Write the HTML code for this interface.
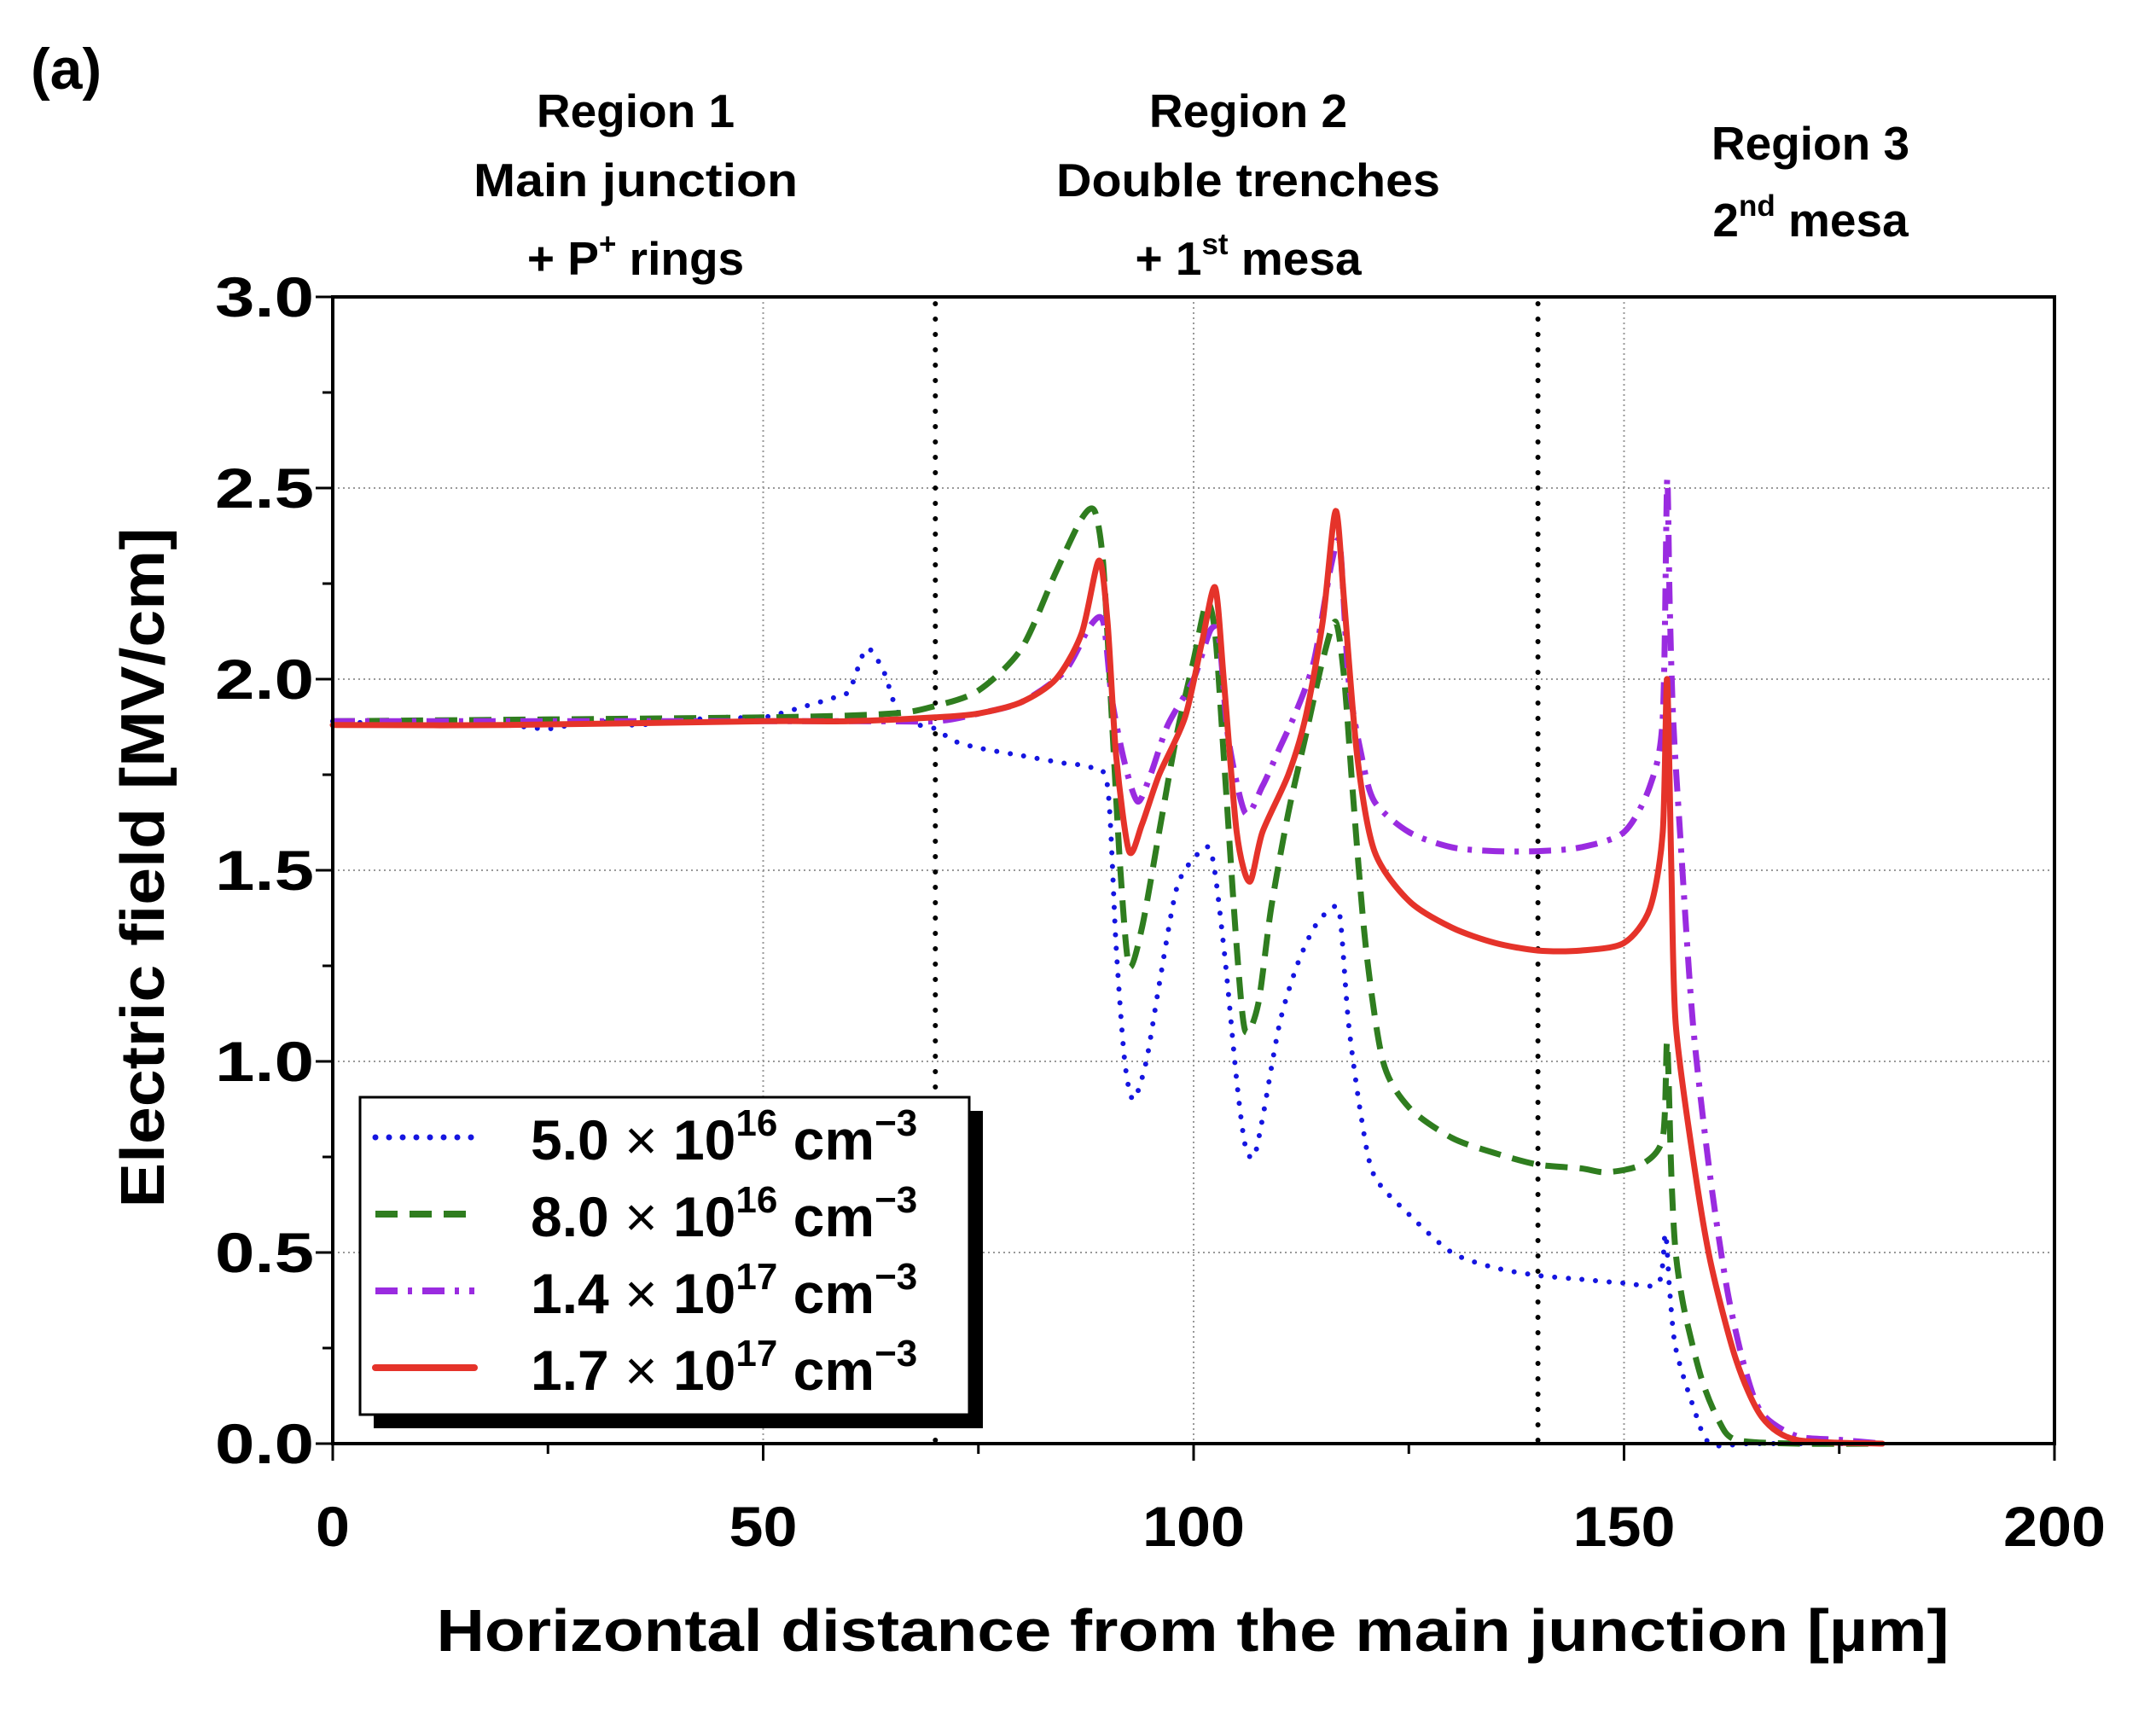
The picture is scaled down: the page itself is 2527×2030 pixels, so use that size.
<!DOCTYPE html>
<html><head><meta charset="utf-8">
<style>
html,body{margin:0;padding:0;background:#fff;}
svg{display:block;}
text{font-family:"Liberation Sans",sans-serif;font-weight:bold;fill:#000;}
</style></head>
<body>
<svg id="chart" width="2527" height="2030" viewBox="0 0 2527 2030" xmlns="http://www.w3.org/2000/svg">
  <text x="36" y="104" font-size="68">(a)</text>
  <g font-size="55" text-anchor="middle">
    <text x="745" y="149">Region 1</text>
    <text x="745" y="230" textLength="380" lengthAdjust="spacingAndGlyphs">Main junction</text>
    <text x="745" y="322">+ P<tspan dy="-24" font-size="35">+</tspan><tspan dy="24"> rings</tspan></text>
    <text x="1463" y="149">Region 2</text>
    <text x="1463" y="230" textLength="450" lengthAdjust="spacingAndGlyphs">Double trenches</text>
    <text x="1463" y="322">+ 1<tspan dy="-24" font-size="35">st</tspan><tspan dy="24"> mesa</tspan></text>
    <text x="2122" y="187">Region 3</text>
    <text x="2122" y="277">2<tspan dy="-24" font-size="35">nd</tspan><tspan dy="24"> mesa</tspan></text>
  </g>
  <g id="grid"></g>
  <g id="vlines"></g>
  <g id="series"></g>
  <g id="axes"></g>
  <text font-size="72" text-anchor="middle" textLength="797" lengthAdjust="spacingAndGlyphs" transform="translate(192,1017) rotate(-90)">Electric field [MV/cm]</text>
  <text font-size="70" text-anchor="middle" x="1398" y="1935" textLength="1773" lengthAdjust="spacingAndGlyphs">Horizontal distance from the main junction [µm]</text>
  <g id="legend"></g>
</svg>
<script>
const xTicks=[0,50,100,150,200];
const yTicks=[0.0,0.5,1.0,1.5,2.0,2.5,3.0];
const yTickLabels=["0.0","0.5","1.0","1.5","2.0","2.5","3.0"];
const dividers=[70,140];
const seriesNames=["5.0e16","8.0e16","1.4e17","1.7e17"];
const blueX=[0,10,20,25,30,35,40,45,50,55,58,60,62,64,66,70,72,75,80,85,88,90,91,92,93,94.5,96,98,100,102,103.5,105,106,107,108,110,112,114,116,117,118,119.5,121,125,130,135,140,145,150,154,154.8,155.3,156,158,160,165,180];
const blueY=[1.89,1.88,1.88,1.87,1.89,1.88,1.89,1.90,1.90,1.93,1.95,1.97,2.08,2.02,1.90,1.87,1.84,1.82,1.80,1.78,1.77,1.72,1.30,1.00,0.90,1.00,1.20,1.45,1.53,1.55,1.30,0.95,0.78,0.75,0.85,1.10,1.25,1.35,1.40,1.38,1.10,0.85,0.70,0.60,0.50,0.46,0.44,0.43,0.42,0.42,0.55,0.40,0.25,0.10,0.0,0.0,0.0];
const greenX=[0,50,65,70,75,80,84,87,88.5,89.5,90.5,91.5,92.5,94,96,98,100,101.5,102.5,103.5,105,106,107.5,109,111,113,115,116.5,117.5,118.5,120,122,125,130,135,140,145,148,152,154.5,155,155.5,156,157,159,161,163,170,180];
const greenY=[1.89,1.90,1.91,1.93,1.97,2.08,2.28,2.42,2.44,2.30,1.90,1.50,1.25,1.35,1.60,1.85,2.05,2.20,2.12,1.80,1.30,1.08,1.15,1.40,1.65,1.85,2.05,2.15,2.00,1.70,1.30,1.00,0.88,0.80,0.76,0.73,0.72,0.71,0.73,0.80,1.05,0.70,0.50,0.35,0.17,0.06,0.01,0.0,0.0];
const purpleX=[0,60,70,75,80,85,88,89.5,90.5,92,93.5,95,97,100,102,103,104,106,108,110,112,114,116,117,118,119.5,121,125,130,135,140,145,150,153,154.5,155,155.3,155.7,156.5,158,160,162,164,166,170,175,180];
const purpleY=[1.89,1.89,1.89,1.91,1.94,2.02,2.14,2.15,1.95,1.78,1.68,1.75,1.88,2.00,2.13,2.10,1.85,1.65,1.72,1.82,1.92,2.05,2.30,2.35,2.00,1.80,1.68,1.60,1.56,1.55,1.55,1.56,1.60,1.72,1.90,2.52,2.20,1.90,1.60,1.10,0.70,0.40,0.20,0.08,0.02,0.01,0.0];
const redX=[0,20,50,60,70,75,80,84,87,89,90,91,92.5,94,96,99,101,102.5,103.5,105,106.5,108,111,113,115,116.5,117.5,119,121,125,130,135,140,145,150,153,154.5,155,155.5,156,158,160,163,166,170,180];
const redY=[1.88,1.88,1.89,1.89,1.90,1.91,1.94,2.00,2.12,2.31,2.15,1.80,1.55,1.62,1.75,1.90,2.10,2.24,2.00,1.60,1.47,1.60,1.75,1.90,2.15,2.44,2.20,1.80,1.55,1.42,1.35,1.31,1.29,1.29,1.31,1.40,1.60,2.00,1.50,1.10,0.75,0.48,0.22,0.07,0.01,0.0];

const L=390,R=2408,T=348,B=1692;
const sx=v=>L+(v/200)*(R-L);
const sy=v=>B-(v/3)*(B-T);
const NS="http://www.w3.org/2000/svg";
function mk(tag,attrs,parent){const e=document.createElementNS(NS,tag);for(const k in attrs)e.setAttribute(k,attrs[k]);parent.appendChild(e);return e;}
const grid=document.getElementById('grid'),axes=document.getElementById('axes'),series=document.getElementById('series'),vl=document.getElementById('vlines'),leg=document.getElementById('legend');

xTicks.forEach((t,i)=>{
  const x=sx(t);
  if(t>0&&t<200){const g=mk('line',{x1:x,x2:x,y1:T,y2:B,stroke:'#999','stroke-width':2,'stroke-dasharray':'2 4'},grid);
  
  }
  const tk=mk('line',{x1:x,x2:x,y1:B,y2:B+20,stroke:'#000','stroke-width':3},axes);
  
  
  const s=String(t);
  const lb=mk('text',{x:x,y:1812,'font-size':66,'text-anchor':'middle',textLength:40*s.length,lengthAdjust:'spacingAndGlyphs'},axes);
  lb.textContent=s;
  
  
  if(i<xTicks.length-1){const xm=sx(t+25);const m=mk('line',{x1:xm,x2:xm,y1:B,y2:B+12,stroke:'#000','stroke-width':3},axes);
  
  }
});
yTicks.forEach((t,i)=>{
  const y=sy(t);
  if(t>0&&t<3){const g=mk('line',{x1:L,x2:R,y1:y,y2:y,stroke:'#999','stroke-width':2,'stroke-dasharray':'2 4'},grid);
  
  }
  const tk=mk('line',{x1:L-20,x2:L,y1:y,y2:y,stroke:'#000','stroke-width':3},axes);
  
  
  const lb=mk('text',{x:L-22,y:y+23,'font-size':66,'text-anchor':'end',textLength:116,lengthAdjust:'spacingAndGlyphs'},axes);
  lb.textContent=yTickLabels[i];
  
  
  if(i<yTicks.length-1){const ym=sy(t+0.25);const m=mk('line',{x1:L-12,x2:L,y1:ym,y2:ym,stroke:'#000','stroke-width':3},axes);
  
  }
});
const frame=mk('rect',{x:L,y:T,width:R-L,height:B-T,fill:'none',stroke:'#000','stroke-width':4},axes);



dividers.forEach(d=>{
  const l=mk('line',{x1:sx(d),x2:sx(d),y1:T+8,y2:B,stroke:'#000','stroke-width':6,'stroke-linecap':'round','stroke-dasharray':'0 18'},vl);
  
  
});

const styles=[
  {c:'#1515e0',w:6,d:'0 16',cap:'round'},
  {c:'#2f7d1f',w:7,d:'26 14',cap:'butt'},
  {c:'#9a2be0',w:7,d:'26 12 5 12',cap:'butt'},
  {c:'#e5332a',w:7,d:'',cap:'round'}
];
const datas=[[blueX,blueY],[greenX,greenY],[purpleX,purpleY],[redX,redY]];
const snames=['series-5e16','series-8e16','series-1-4e17','series-1-7e17'];
function smoothPath(pts){
  let d='M'+pts[0][0].toFixed(1)+' '+pts[0][1].toFixed(1);
  for(let i=0;i<pts.length-1;i++){
    const p0=pts[Math.max(0,i-1)],p1=pts[i],p2=pts[i+1],p3=pts[Math.min(pts.length-1,i+2)];
    const k=1/6*0.8;
    const c1x=p1[0]+(p2[0]-p0[0])*k,c1y=p1[1]+(p2[1]-p0[1])*k;
    const c2x=p2[0]-(p3[0]-p1[0])*k,c2y=p2[1]-(p3[1]-p1[1])*k;
    d+='C'+c1x.toFixed(1)+' '+c1y.toFixed(1)+' '+c2x.toFixed(1)+' '+c2y.toFixed(1)+' '+p2[0].toFixed(1)+' '+p2[1].toFixed(1);
  }
  return d;
}
datas.forEach((dv,i)=>{
  const [xs,ys]=dv;
  const pts=xs.map((x,j)=>[sx(x),sy(ys[j])]);
  const s=styles[i];
  const p=mk('path',{d:smoothPath(pts),fill:'none',stroke:s.c,'stroke-width':s.w,'stroke-linejoin':'round','stroke-linecap':s.cap},series);
  if(s.d)p.setAttribute('stroke-dasharray',s.d);
  
  
});

// legend
const sh=mk('rect',{x:438,y:1302,width:714,height:372,fill:'#000'},leg);


const box=mk('rect',{x:422,y:1286,width:714,height:372,fill:'#fff',stroke:'#000','stroke-width':3},leg);


const labs=[['5.0','16'],['8.0','16'],['1.4','17'],['1.7','17']];
const ly=[1333,1423,1513,1603];
labs.forEach((lv,i)=>{
  const s=styles[i];
  const ln=mk('line',{x1:440,x2:556,y1:ly[i],y2:ly[i],stroke:s.c,'stroke-width':s.w+1,'stroke-linecap':s.cap},leg);
  if(s.d)ln.setAttribute('stroke-dasharray',s.d);
  
  
  const t=mk('text',{x:622,y:ly[i]+26,'font-size':66},leg);
  t.innerHTML=lv[0]+' <tspan font-weight="normal">×</tspan> 10<tspan dy="-28" font-size="44">'+lv[1]+'</tspan><tspan dy="28"> cm</tspan><tspan dy="-28" font-size="44">−3</tspan>';
  
  
});
</script>
</body></html>
